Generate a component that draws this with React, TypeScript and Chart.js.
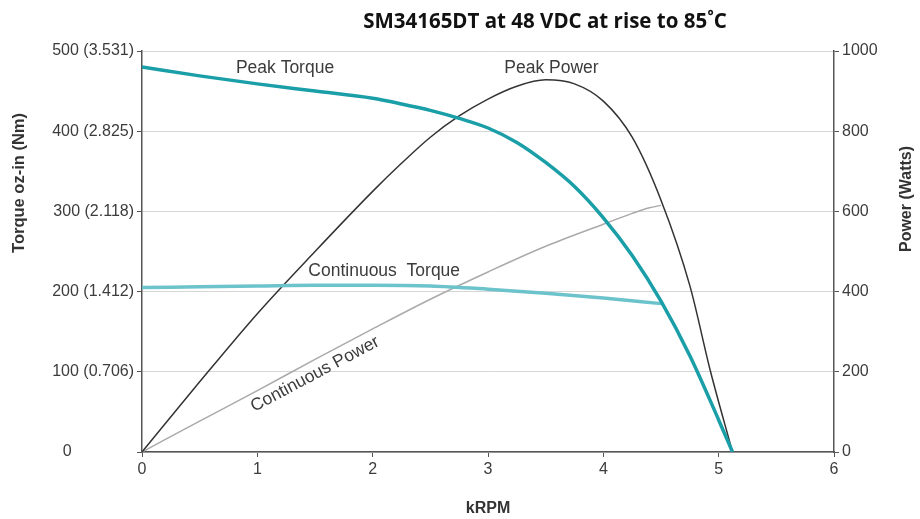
import React, { useEffect, useRef } from "react";
import { Chart, registerables } from "chart.js";

Chart.register(...registerables);

// ---- Data ----
const chartTitle = "SM34165DT at 48 VDC at rise to 85˚C";
const xTitle = "kRPM";
const leftTitle = "Torque oz-in (Nm)";
const rightTitle = "Power (Watts)";

const torqueTickValues = [0, 100, 200, 300, 400, 500];
const torqueTickLabels = ["0", "100 (0.706)", "200 (1.412)", "300 (2.118)", "400 (2.825)", "500 (3.531)"];

const peakTorqueSpeed = [0, 0.5, 1, 1.5, 2, 2.25, 2.5, 2.75, 3, 3.25, 3.5, 3.75, 4, 4.25, 4.5, 4.75, 5, 5.12];
const peakTorque = [480, 469, 459, 450, 441, 434, 426, 416, 404, 386, 361, 331, 292, 245, 188, 120, 40, 0];

const contTorqueSpeed = [0, 0.5, 1, 1.5, 2, 2.5, 3, 3.5, 4, 4.5];
const contTorque = [205, 206, 207, 208, 208, 207, 203, 198, 192, 185];

const peakPowerSpeed = [0, 0.5, 1, 1.5, 2, 2.25, 2.5, 2.75, 3, 3.25, 3.5, 3.75, 4, 4.25, 4.5, 4.75, 4.93, 5.12];
const peakPower = [0, 175, 345, 500, 650, 720, 785, 838, 880, 912, 928, 918, 875, 785, 628, 415, 200, 0];

const contPowerSpeed = [0, 0.5, 1, 1.5, 2, 2.5, 3, 3.5, 4, 4.25, 4.4, 4.5];
const contPower = [0, 77, 153, 231, 307, 381, 449, 513, 568, 595, 609, 615];

const curveLabels = ["Peak Torque", "Peak Power", "Continuous  Torque", "Continuous Power"];
const curveLabelX = [1.24, 3.55, 2.1, 1.5];
const curveLabelY = [479, 478, 225, 97];
const curveLabelAngle = [0, 0, 0, -28];

const toXY = (xs: number[], ys: number[]) => xs.map((x, i) => ({ x, y: ys[i] }));

const TEXT = "#3c3c3c";
const AXIS = "#555555";

const overlayPlugin = {
  id: "overlay",
  afterDraw(chart: any) {
    const ctx = chart.ctx;
    const xs = chart.scales.x;
    const ys = chart.scales.y;
    const area = chart.chartArea;
    ctx.save();
    // Chart title
    ctx.fillStyle = "#111";
    ctx.font = "bold 20.5px 'Open Sans', Lato, sans-serif";
    ctx.textAlign = "center";
    ctx.textBaseline = "middle";
    ctx.fillText(chartTitle, 545, 22);

    // Axis titles
    ctx.fillStyle = "#333";
    ctx.font = "bold 16px 'Liberation Sans', Arial, sans-serif";
    ctx.fillText(xTitle, (area.left + area.right) / 2, 509);

    ctx.save();
    ctx.translate(19, 183);
    ctx.rotate(-Math.PI / 2);
    ctx.font = "bold 16.5px 'Liberation Sans', Arial, sans-serif";
    ctx.fillText(leftTitle, 0, 0);
    ctx.restore();

    ctx.save();
    ctx.translate(907, 199);
    ctx.rotate(-Math.PI / 2);
    ctx.font = "bold 16px 'Liberation Sans', Arial, sans-serif";
    ctx.fillText(rightTitle, 0, 0);
    ctx.restore();

    // Curve labels
    ctx.fillStyle = TEXT;
    ctx.font = "17.5px 'Liberation Sans', Arial, sans-serif";
    curveLabels.forEach((t, i) => {
      const px = xs.getPixelForValue(curveLabelX[i]);
      const py = ys.getPixelForValue(curveLabelY[i]);
      ctx.save();
      ctx.translate(px, py);
      ctx.rotate((curveLabelAngle[i] * Math.PI) / 180);
      ctx.fillText(t, 0, 0);
      ctx.restore();
    });
    ctx.restore();
  },
};

export default function App() {
  const ref = useRef<HTMLCanvasElement | null>(null);
  useEffect(() => {
    document.body.style.margin = "0";
    const canvas = ref.current;
    if (!canvas) return;
    const tickFont = { family: "'Liberation Sans', Arial, sans-serif", size: 16 };
    const chart = new Chart(canvas, {
      type: "line",
      data: {
        datasets: [
          {
            label: "Peak Torque",
            data: toXY(peakTorqueSpeed, peakTorque),
            yAxisID: "y",
            borderColor: "#1a9ea7",
            borderWidth: 3.5,
            pointRadius: 0,
            cubicInterpolationMode: "monotone",
          },
          {
            label: "Continuous Torque",
            data: toXY(contTorqueSpeed, contTorque),
            yAxisID: "y",
            borderColor: "#6cc3cb",
            borderWidth: 3.5,
            pointRadius: 0,
            cubicInterpolationMode: "monotone",
          },
          {
            label: "Peak Power",
            data: toXY(peakPowerSpeed, peakPower),
            yAxisID: "y1",
            borderColor: "#333333",
            borderWidth: 1.5,
            pointRadius: 0,
            cubicInterpolationMode: "monotone",
          },
          {
            label: "Continuous Power",
            data: toXY(contPowerSpeed, contPower),
            yAxisID: "y1",
            borderColor: "#aaaaaa",
            borderWidth: 1.5,
            pointRadius: 0,
            cubicInterpolationMode: "monotone",
          },
        ],
      },
      options: {
        responsive: false,
        animation: false,
        layout: { padding: { top: 51, left: 0, right: 0, bottom: 0 } },
        plugins: { legend: { display: false }, tooltip: { enabled: false }, title: { display: false } },
        scales: {
          x: {
            type: "linear",
            min: 0,
            max: 6,
            ticks: { stepSize: 1, color: TEXT, font: tickFont, padding: 3 },
            grid: { drawOnChartArea: false, drawTicks: true, tickLength: 5, tickColor: AXIS },
            border: { color: AXIS, width: 1.5 },
            afterFit: (s: any) => {
              s.height = 67;
            },
          },
          y: {
            type: "linear",
            position: "left",
            min: 0,
            max: 500,
            afterBuildTicks: (s: any) => {
              s.ticks = torqueTickValues.map((v) => ({ value: v }));
            },
            ticks: {
              color: TEXT,
              font: tickFont,
              padding: 3,
              callback: (v: any) => {
                const i = torqueTickValues.indexOf(Number(v));
                const lbl = i >= 0 ? torqueTickLabels[i] : "";
                return lbl === "0" ? "0              " : lbl;
              },
            },
            grid: { color: "#d6d6d6", lineWidth: 1, tickLength: 5, tickColor: AXIS },
            border: { color: AXIS, width: 1.5 },
            afterFit: (s: any) => {
              s.width = 142;
            },
          },
          y1: {
            type: "linear",
            position: "right",
            min: 0,
            max: 1000,
            ticks: { stepSize: 200, color: TEXT, font: tickFont, padding: 3, callback: (v: any) => String(v) },
            grid: { drawOnChartArea: false, tickLength: 5, tickColor: AXIS },
            border: { color: AXIS, width: 1.5 },
            afterFit: (s: any) => {
              s.width = 86;
            },
          },
        },
      },
      plugins: [overlayPlugin],
    } as any);
    return () => chart.destroy();
  }, []);
  return (
    <div style={{ width: 920, height: 519, background: "#fff" }}>
      <canvas ref={ref} width={920} height={519} />
    </div>
  );
}
